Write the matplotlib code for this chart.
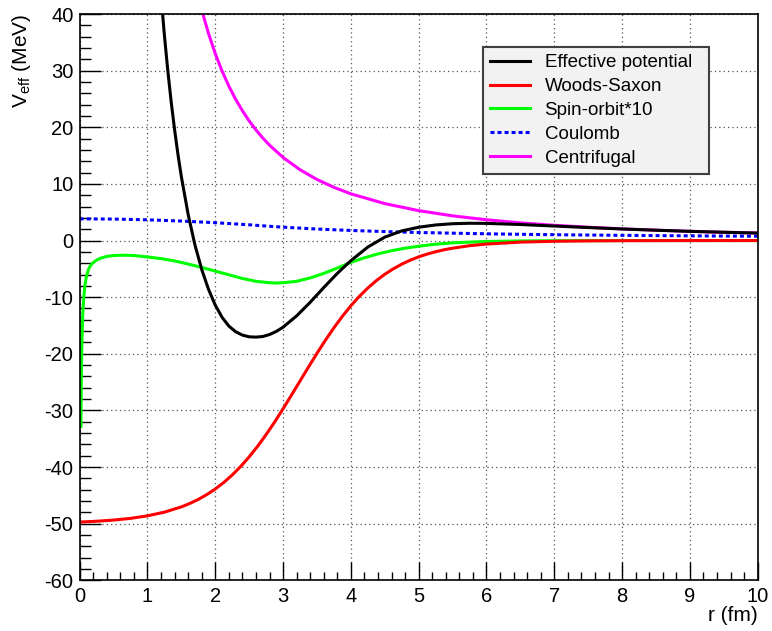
import matplotlib
matplotlib.use('Agg')
import matplotlib.pyplot as plt
from matplotlib.ticker import MultipleLocator

plt.rcParams['font.family'] = ['Liberation Sans', 'DejaVu Sans']
plt.rcParams['mathtext.fontset'] = 'custom'
plt.rcParams['mathtext.rm'] = 'Liberation Sans'
plt.rcParams['mathtext.it'] = 'Liberation Sans:italic'
plt.rcParams['axes.unicode_minus'] = False

# ---- data ----
r_eff = [1.2, 1.25, 1.3, 1.35, 1.4, 1.45, 1.5, 1.6, 1.7, 1.8, 1.9, 2.0, 2.1, 2.2,
         2.3, 2.4, 2.5, 2.6, 2.7, 2.8, 2.9, 3.0, 3.2, 3.4, 3.6, 3.8, 4.0, 4.25,
         4.5, 4.75, 5.0, 5.25, 5.5, 5.75, 6.0, 6.5, 7.0, 7.5, 8.0, 8.5, 9.0, 9.5, 10.0]
v_eff = [43.24, 36.19, 29.97, 24.45, 19.55, 15.17, 11.25, 4.60, -0.78, -5.11, -8.61,
         -11.41, -13.55, -15.1, -16.1, -16.7, -17.0, -17.05, -16.95, -16.6, -16.05,
         -15.3, -13.3, -10.9, -8.3, -5.8, -3.55, -1.15, 0.6, 1.7, 2.35, 2.75, 2.97,
         3.05, 3.03, 2.83, 2.56, 2.29, 2.04, 1.82, 1.62, 1.46, 1.32]

r_ws = [0, 0.25, 0.5, 0.75, 1.0, 1.25, 1.5, 1.625, 1.75, 1.875, 2.0, 2.125, 2.25,
        2.375, 2.5, 2.625, 2.75, 2.875, 3.0, 3.125, 3.25, 3.375, 3.5, 3.625, 3.75,
        3.875, 4.0, 4.125, 4.25, 4.375, 4.5, 4.625, 4.75, 4.875, 5.0, 5.125, 5.25,
        5.375, 5.5, 5.75, 6.0, 6.5, 7.0, 7.5, 8.0, 9.0, 10.0]
v_ws = [-49.71, -49.57, -49.36, -49.06, -48.61, -47.96, -47.03, -46.42, -45.71,
        -44.86, -43.87, -42.72, -41.40, -39.89, -38.20, -36.32, -34.26, -32.05,
        -29.70, -27.27, -24.80, -22.33, -19.91, -17.59, -15.40, -13.37, -11.52,
        -9.85, -8.38, -7.08, -5.96, -5.00, -4.17, -3.47, -2.88, -2.39, -1.98,
        -1.63, -1.35, -0.91, -0.62, -0.28, -0.13, -0.06, -0.03, -0.005, -0.001]

r_so = [0.018, 0.02, 0.025, 0.03, 0.04, 0.05, 0.065, 0.08, 0.1, 0.13, 0.16, 0.2,
        0.25, 0.3, 0.4, 0.5, 0.6, 0.7, 0.8, 1.0, 1.2, 1.4, 1.6, 1.8, 2.0, 2.2, 2.4,
        2.6, 2.8, 2.9, 3.0, 3.2, 3.4, 3.6, 3.8, 4.0, 4.2, 4.4, 4.6, 4.8, 5.0, 5.25,
        5.5, 6.0, 6.5, 7.0, 8.0, 10.0]
v_so = [-32.8, -29.5, -23.6, -19.7, -14.9, -12.0, -9.4, -7.7, -6.3, -5.1, -4.4,
        -3.9, -3.45, -3.15, -2.8, -2.65, -2.6, -2.6, -2.65, -2.9, -3.2, -3.6, -4.15,
        -4.75, -5.4, -6.05, -6.7, -7.2, -7.45, -7.5, -7.45, -7.2, -6.6, -5.8, -4.85,
        -3.85, -3.05, -2.35, -1.8, -1.35, -1.0, -0.65, -0.4, -0.17, -0.07, -0.03,
        0.0, 0.0]

r_coul = [0, 0.5, 1.0, 1.5, 2.0, 2.5, 2.75, 3.0, 3.5, 4.0, 4.5, 5.0, 5.5, 6.0,
          6.5, 7.0, 7.5, 8.0, 8.5, 9.0, 9.5, 10.0]
v_coul = [3.83, 3.79, 3.66, 3.44, 3.15, 2.78, 2.56, 2.36, 2.03, 1.78, 1.58, 1.42,
          1.30, 1.19, 1.10, 1.03, 0.97, 0.92, 0.87, 0.83, 0.79, 0.76]

r_cent = [1.75, 1.8, 1.9, 2.0, 2.1, 2.2, 2.3, 2.4, 2.5, 2.6, 2.7, 2.8, 3.0, 3.25,
          3.5, 3.75, 4.0, 4.5, 5.0, 5.5, 6.0, 6.5, 7.0, 7.5, 8.0, 8.5, 9.0, 9.5, 10.0]
v_cent = [43.1, 40.74, 36.57, 33.0, 29.93, 27.27, 24.95, 22.92, 21.12, 19.53,
          18.11, 16.84, 14.67, 12.50, 10.78, 9.39, 8.25, 6.52, 5.28, 4.36, 3.67,
          3.12, 2.69, 2.35, 2.06, 1.83, 1.63, 1.46, 1.32]

labels = ['Effective potential', 'Woods-Saxon', 'Spin-orbit*10', 'Coulomb', 'Centrifugal']

# ---- figure ----
fig = plt.figure(figsize=(7.72, 6.31), dpi=100)
ax = fig.add_axes([0.1032, 0.0803, 0.8783, 0.8975])

lw = 2.2
l_eff, = ax.plot(r_eff, v_eff, color='black', lw=lw, zorder=2.5, label=labels[0])
l_ws, = ax.plot(r_ws, v_ws, color='#ff0000', lw=lw, zorder=2.3, label=labels[1])
l_so, = ax.plot(r_so, v_so, color='#00ff00', lw=lw, zorder=2.2, label=labels[2])
l_co, = ax.plot(r_coul, v_coul, color='#0000ff', lw=lw, zorder=2.4,
                linestyle=(0, (1.3, 1.0)), dash_capstyle='butt', label=labels[3])
l_ce, = ax.plot(r_cent, v_cent, color='#ff00ff', lw=lw, zorder=2.1, label=labels[4])

ax.set_xlim(0, 10)
ax.set_ylim(-60, 40)

ax.xaxis.set_major_locator(MultipleLocator(1))
ax.xaxis.set_minor_locator(MultipleLocator(0.2))
ax.yaxis.set_major_locator(MultipleLocator(10))
ax.yaxis.set_minor_locator(MultipleLocator(2))

ax.tick_params(axis='x', which='major', direction='in', length=13, width=1.0,
               top=False, labelsize=14.5, pad=5)
ax.tick_params(axis='x', which='minor', direction='in', length=6, width=1.0, top=False)
ax.tick_params(axis='y', which='major', direction='in', length=15, width=1.0,
               right=False, labelsize=14.5, pad=4.5)
ax.tick_params(axis='y', which='minor', direction='in', length=8, width=1.0, right=False)

ax.grid(True, which='major', color='#555555', linestyle=(0, (1, 2.5)), linewidth=0.9)
ax.set_axisbelow(True)

for s in ax.spines.values():
    s.set_linewidth(1.2)
    s.set_color('black')

ax.set_ylabel('V$_{\\mathrm{eff}}$ (MeV)', loc='top', fontsize=15)
ax.yaxis.set_label_coords(-0.069, 1.0)
ax.set_xlabel('r (fm)', loc='right', fontsize=15)
ax.xaxis.set_label_coords(1.0, -0.046)

leg_h = 0.22
leg = ax.legend(handles=[l_eff, l_ws, l_so, l_co, l_ce], loc='upper left',
                bbox_to_anchor=(0.595, 0.9417 - leg_h, 0.333, leg_h), mode='expand',
                fontsize=13.5, frameon=True, fancybox=False, framealpha=1,
                facecolor='#f2f2f2', edgecolor='#404040', handlelength=2.1,
                handletextpad=0.8, labelspacing=0.36, borderpad=0.38,
                borderaxespad=0)
leg.get_frame().set_linewidth(1.5)

fig.savefig('out.png', dpi=100)
